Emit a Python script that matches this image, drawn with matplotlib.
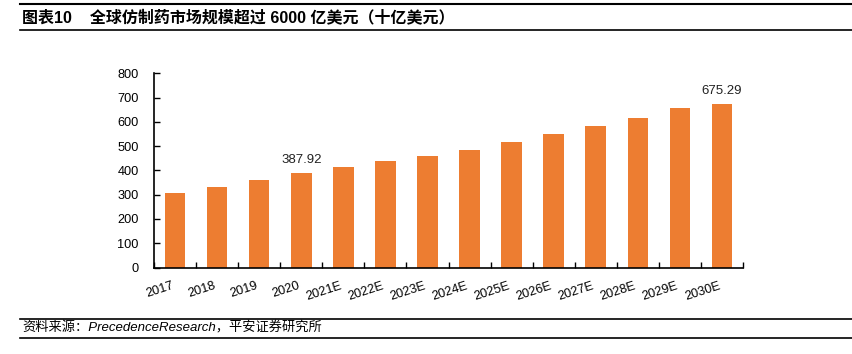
import matplotlib
matplotlib.use("Agg")
import matplotlib.pyplot as plt
import numpy as np

categories = ["2017", "2018", "2019", "2020", "2021E", "2022E", "2023E", "2024E",
              "2025E", "2026E", "2027E", "2028E", "2029E", "2030E"]
values = [306.0, 332.5, 358.5, 387.92, 412.0, 437.0, 461.0, 486.0,
          518.0, 552.0, 582.0, 615.0, 655.0, 675.29]
labeled = {"2020": "387.92", "2030E": "675.29"}
yticks = [0, 100, 200, 300, 400, 500, 600, 700, 800]

title = "图表10    全球仿制药市场规模超过 6000 亿美元（十亿美元）"
source = "资料来源：PrecedenceResearch，平安证券研究所"

FAM = ["Liberation Sans", "Noto Sans CJK SC", "DejaVu Sans"]
plt.rcParams["font.family"] = FAM

fig = plt.figure(figsize=(8.52, 3.54), dpi=100)
ax = fig.add_axes([154 / 852, 1 - 267.5 / 354, (743 - 154) / 852, (267.5 - 73.3) / 354])

x = np.arange(len(categories))
ax.bar(x, values, width=0.49, color="#ED7D31", zorder=2)

for i, c in enumerate(categories):
    if c in labeled:
        ax.annotate(labeled[c], (x[i], values[i]), xytext=(0, 5),
                    textcoords="offset points", ha="center", va="bottom",
                    fontsize=9.5, color="#222222")

ax.set_xlim(-0.5, len(categories) - 0.5)
ax.set_ylim(0, 800)
ax.set_yticks(yticks)
ax.set_yticklabels([str(v) for v in yticks], fontsize=9.2)
ax.tick_params(axis="y", length=4, width=1, direction="in", pad=11, colors="black")

ax.set_xticks(x)
ax.set_xticklabels(categories, rotation=18, ha="right", fontsize=9.2,
                   rotation_mode="default")
ax.tick_params(axis="x", which="major", length=0, pad=9)
ax.set_xticks(np.arange(-0.5, len(categories), 1), minor=True)
ax.tick_params(axis="x", which="minor", length=4, width=1, direction="in")

for s in ["top", "right"]:
    ax.spines[s].set_visible(False)
for s in ["left", "bottom"]:
    ax.spines[s].set_color("black")
    ax.spines[s].set_linewidth(1.2)

# header and footer
fig.text(22 / 852, 1 - 17 / 354, title, fontsize=11.5, fontweight="bold",
         va="center", ha="left", family=FAM)
for yy, lw in [(4, 1.5), (30, 1.2), (319, 1.2), (337.5, 1.2)]:
    fig.add_artist(plt.Line2D([20 / 852, 1.0], [1 - yy / 354, 1 - yy / 354],
                              color="black", linewidth=lw))
fig.text(22 / 852, 1 - 328 / 354, source, fontsize=9.5, style="italic",
         va="center", ha="left", family=FAM)

fig.savefig("out.png", dpi=100)
